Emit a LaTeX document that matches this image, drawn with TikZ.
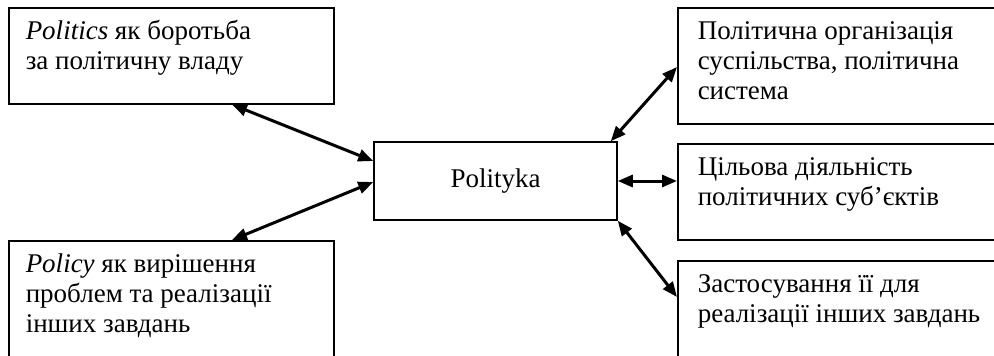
\documentclass[tikz,border=0pt]{standalone}
\usepackage{fontspec}
\setmainfont{Liberation Serif}
\usetikzlibrary{arrows.meta}
\newcommand{\vak}[3]{\parbox[t][#2pt][t]{#1pt}{\raggedright\strut #3}}
\tikzset{
  blok/.style={draw,line width=1.5pt,anchor=north west,inner xsep=17pt,inner ysep=11pt},
  pijl/.style={{Triangle[length=15pt,width=12pt]}-{Triangle[length=15pt,width=12pt]},line width=3pt}
}
\begin{document}
\begin{tikzpicture}[x=1pt,y=-1pt,font=\fontsize{27}{30}\selectfont]
\useasboundingbox (0,0) rectangle (994,356);
\clip (0,0) rectangle (994,356);

\node[draw,line width=1.5pt,minimum width=243pt,minimum height=78pt] (pol) at (495.5,181) {Polityka};

\node[blok] (politics) at (8,7) {\vak{291}{74}{\textit{Politics} як боротьба\\за політичну владу}};
\node[blok] (policy) at (8,240) {\vak{291}{118}{\textit{Policy} як вирішення\\проблем та реалізації\\інших завдань}};

\node[blok,inner xsep=20pt] (org) at (677,7) {\vak{300}{94}{Політична організація\\суспільства, політична\\система}};
\node[blok,inner xsep=20pt] (act) at (677,143) {\vak{300}{74}{Цільова діяльність\\політичних суб’єктів}};
\node[blok,inner xsep=20pt] (app) at (677,260) {\vak{300}{118}{Застосування її для\\реалізації інших завдань}};

\draw[pijl] ([xshift=224pt]politics.south west) -- ([yshift=20pt]pol.west);
\draw[pijl] ([xshift=224pt]policy.north west) -- ([yshift=-1pt]pol.west);
\draw[pijl] ([xshift=-7pt]pol.north east) -- ([yshift=-60pt]org.north west);
\draw[pijl] (pol.east) -- (pol.east -| act.west);
\draw[pijl] (pol.south east) -- ([yshift=-37pt]app.north west);
\end{tikzpicture}
\end{document}
